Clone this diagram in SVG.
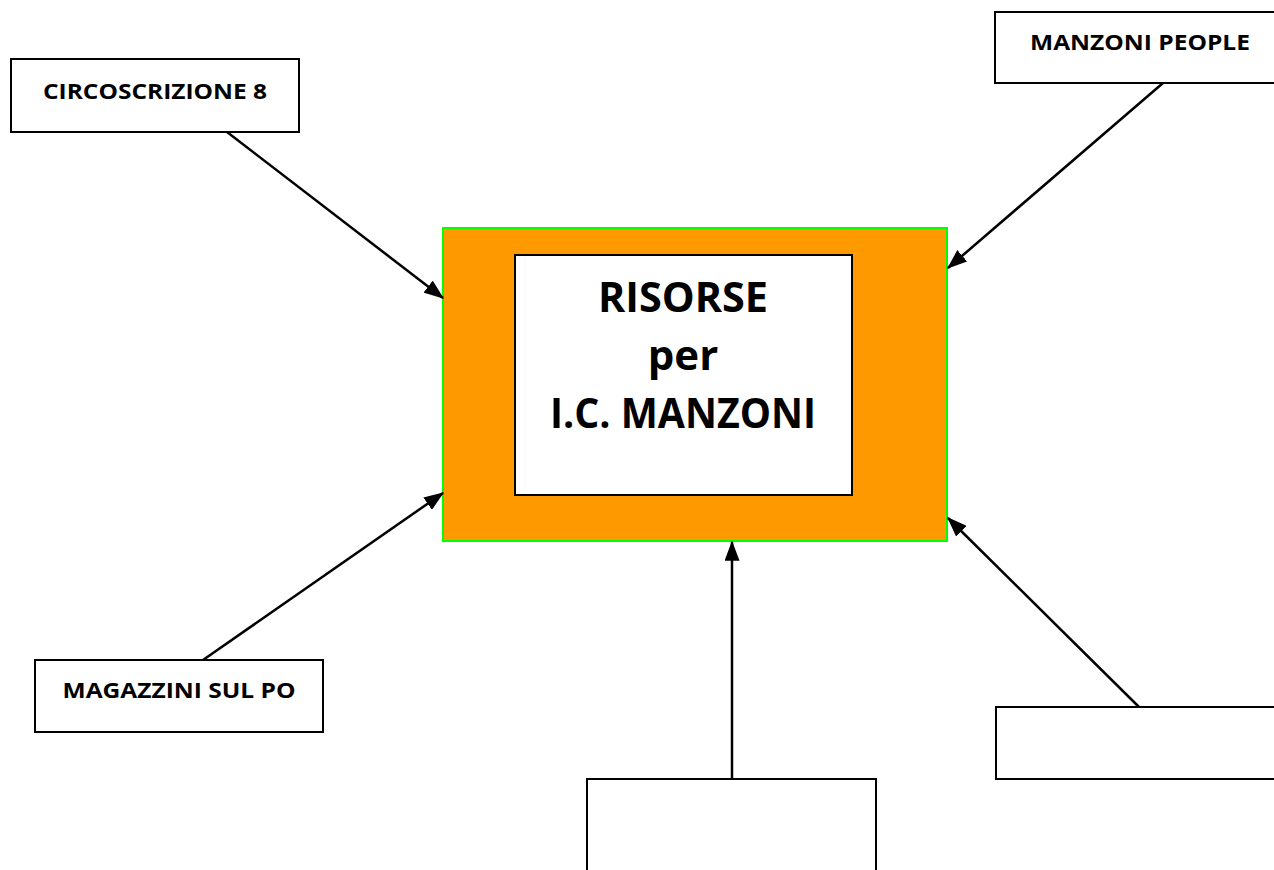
<svg xmlns="http://www.w3.org/2000/svg" width="1274" height="870" viewBox="0 0 1274 870">
<style>
.box{fill:#fff;stroke:#000;stroke-width:2}
.lbl{font-family:"Open Sans","Liberation Sans",sans-serif;font-weight:bold;font-size:21px;fill:#000;text-anchor:middle}
.big{font-family:"Open Sans","Liberation Sans",sans-serif;font-weight:bold;font-size:42px;fill:#000;text-anchor:middle}
.conn{stroke:#000;stroke-width:2.5;fill:none;marker-end:url(#ah)}
</style>
<defs>
<marker id="ah" markerWidth="8" markerHeight="6" refX="7.5" refY="3" orient="auto" markerUnits="strokeWidth">
<path d="M0,0 L8,3 L0,6 Z" fill="#000"/>
</marker>
</defs>
<rect width="1274" height="870" fill="#fff"/>
<g id="center">
<rect x="443" y="228" width="504" height="313" fill="#FF9900" stroke="#00FF00" stroke-width="2"/>
<rect x="515" y="255" width="337" height="240" class="box"/>
<text x="683" y="312" class="big" textLength="170" lengthAdjust="spacingAndGlyphs">RISORSE</text>
<text x="683" y="370" class="big">per</text>
<text x="683" y="428" class="big" textLength="266" lengthAdjust="spacingAndGlyphs">I.C. MANZONI</text>
</g>
<g id="circoscrizione">
<rect x="11" y="59" width="288" height="73" class="box"/>
<text x="155" y="99" class="lbl" textLength="224" lengthAdjust="spacingAndGlyphs">CIRCOSCRIZIONE 8</text>
</g>
<g id="manzoni-people">
<rect x="995" y="12" width="290" height="71" class="box"/>
<text x="1140" y="50" class="lbl" textLength="220" lengthAdjust="spacingAndGlyphs">MANZONI PEOPLE</text>
</g>
<g id="magazzini">
<rect x="35" y="660" width="288" height="72" class="box"/>
<text x="179" y="698" class="lbl" textLength="233" lengthAdjust="spacingAndGlyphs">MAGAZZINI SUL PO</text>
</g>
<g id="bottom-box">
<rect x="587" y="779" width="289" height="110" class="box"/>
</g>
<g id="right-box">
<rect x="996" y="707" width="290" height="72" class="box"/>
</g>
<g id="connectors">
<line x1="227" y1="132" x2="443" y2="298" class="conn"/>
<line x1="1163" y1="83" x2="948" y2="268" class="conn"/>
<line x1="203" y1="660" x2="443" y2="493" class="conn"/>
<line x1="732" y1="779" x2="732" y2="542" class="conn"/>
<line x1="1139" y1="707" x2="948" y2="518" class="conn"/>
</g>
</svg>
